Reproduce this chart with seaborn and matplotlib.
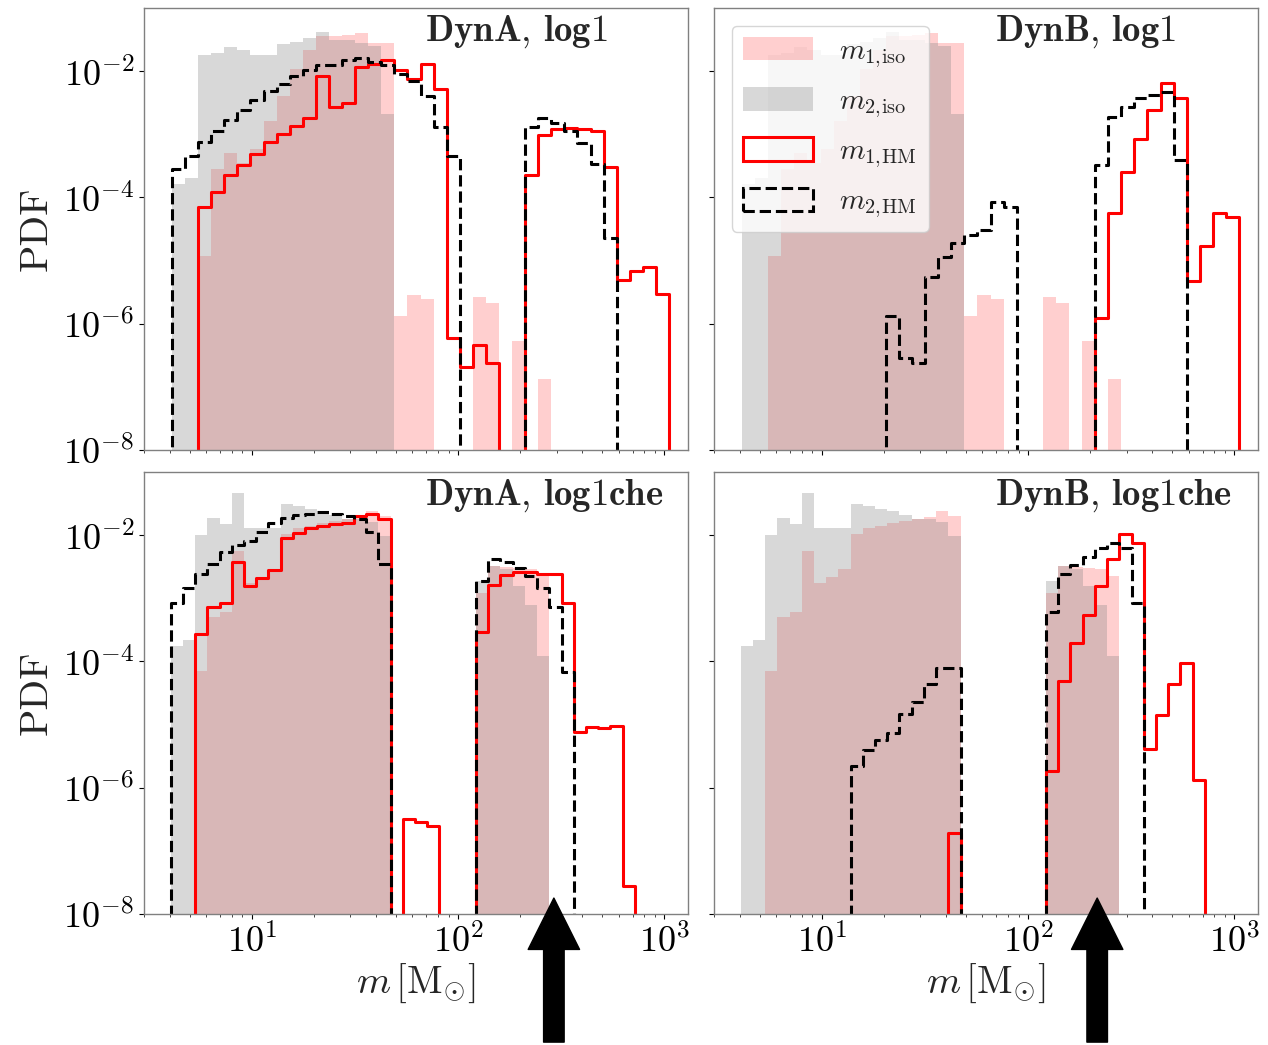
"""
Mass PDFs of isolated vs hierarchical-merger binaries, log1 and log1che models,
for the DynA and DynB dynamical prescriptions. Log-spaced bins, log-log axes.
"""

import matplotlib

matplotlib.use("Agg")
import matplotlib.pyplot as plt
import numpy as np
import seaborn as sns
from matplotlib.patches import Patch
from matplotlib.ticker import FixedLocator, NullLocator

N = None

# bin ranges (Msun) and number of log bins per model
N_BINS = 38
LOG1_MASS_RANGE = (4.10, 1052.0)
CHE_MASS_RANGE = (4.04, 718.0)

# log10(PDF) per bin, None = empty bin
# isolated populations (identical for DynA and DynB)
M1_ISO_LOG1 = [N, N, -4.92, -3.55, -3.30, -3.45, -3.23, -2.79, -2.40, -1.96,
               -1.66, -1.45, -1.45, -1.42, -1.39, -1.56, -1.56, -5.88, -5.55,
               -5.61, N, N, N, -5.57, -5.67, N, -6.28, N, -6.88,
               N, N, N, N, N, N, N, N, N]
M2_ISO_LOG1 = [-3.79, -3.70, -1.75, -1.71, -1.61, -1.66, -1.75, -1.74, -1.57,
               -1.53, -1.48, -1.38, -1.50, -1.51, -1.56, -1.60, -2.68] + [N] * 21
M1_ISO_CHE = [N, N, -4.15, -3.29, -3.22, -2.25, -2.75, -2.67, -2.53, -1.98,
              -1.89, -1.85, -1.80, -1.78, -1.75, -1.71, -1.62, -1.69] + [N] * 7 + \
             [-2.91, -2.49, -2.51, -2.52, -2.53, -2.65] + [N] * 7
M2_ISO_CHE = [-3.75, -3.66, -2.00, -1.72, -1.83, -1.33, -1.88, -1.89, -1.88,
              -1.50, -1.54, -1.58, -1.62, -1.68, -1.74, -1.75, -1.79, -2.02] + [N] * 7 + \
             [-2.72, -2.49, -2.53, -2.80, -3.11, -3.91] + [N] * 7

# hierarchical mergers
M1_HM_DYNA_LOG1 = [N, N, -4.15, -3.92, -3.65, -3.49, -3.31, -3.12, -2.99, -2.87,
                   -2.74, -2.07, -2.56, -2.51, -1.93, -1.88, -1.83, -1.98, -2.13,
                   -1.88, -2.28, -6.22, -6.68, -6.33, -6.62, N, N, -3.65, -3.01,
                   -2.92, -2.90, -2.91, -2.94, -3.52, -5.30, -5.17, -5.10, -5.53]
M2_HM_DYNA_LOG1 = [-3.55, -3.34, -3.12, -2.95, -2.78, -2.62, -2.46, -2.32, -2.20,
                   -2.08, -1.98, -1.91, -1.90, -1.82, -1.79, -1.85, -1.90, -2.05,
                   -2.15, -2.40, -2.89, -3.35, N, N, N, N, N, -2.89, -2.74, -2.82,
                   -2.95, -3.13, -3.47, -4.65, N, N, N, N]
M1_HM_DYNB_LOG1 = [N] * 27 + [-5.91, -4.24, -3.59, -3.07, -2.62, -2.19, -2.43,
                              -5.33, -4.77, -4.24, -4.31]
M2_HM_DYNB_LOG1 = [N] * 11 + [-5.88, -6.55, -6.62, -5.26, -4.95, -4.72, -4.60,
                              -4.51, -4.07, -4.15] + [N] * 6 + \
                  [-3.49, -2.73, -2.56, -2.42, -2.37, -2.33, -3.41] + [N] * 4
M1_HM_DYNA_CHE = [N, N, -3.56, -3.14, -3.07, -2.42, -2.80, -2.68, -2.55, -2.04,
                  -1.97, -1.89, -1.85, -1.82, -1.80, -1.69, -1.66, -1.74, N,
                  -6.49, -6.54, -6.61, N, N, N, -3.53, -2.79, -2.63, -2.59,
                  -2.59, -2.61, -2.62, -3.08, -5.12, -5.04, -5.05, -5.03, -7.56]
M2_HM_DYNA_CHE = [-3.07, -2.84, -2.62, -2.46, -2.26, -2.16, -2.09, -1.95, -1.80,
                  -1.72, -1.68, -1.66, -1.64, -1.67, -1.70, -1.75, -1.95, -2.46] + [N] * 7 + \
                 [-2.72, -2.37, -2.43, -2.52, -2.65, -2.84, -3.13, -4.16] + [N] * 5
M1_HM_DYNB_CHE = [N] * 17 + [-6.72] + [N] * 7 + \
                 [-5.74, -4.31, -3.71, -3.26, -2.80, -2.38, -1.98, -2.12, -5.39,
                  -4.85, -4.35, -4.03, -5.88]
M2_HM_DYNB_CHE = [N] * 9 + [-5.65, -5.40, -5.25, -5.13, -4.84, -4.65, -4.35,
                            -4.11, -4.10] + [N] * 7 + \
                 [-3.22, -2.61, -2.48, -2.34, -2.21, -2.13, -2.21, -3.07] + [N] * 5

PANEL_TITLES = [r"$\mathbf{DynA}$, $\mathbf{log1}$", r"$\mathbf{DynB}$, $\mathbf{log1}$",
                r"$\mathbf{DynA}$, $\mathbf{log1che}$", r"$\mathbf{DynB}$, $\mathbf{log1che}$"]
ARROW_MASS = [291.0, 216.0]  # bottom row markers
LEGEND_LABELS = [r"$m_{1,\!\rm iso}$", r"$m_{2,\!\rm iso}$",
                 r"$m_{1,\!\rm HM}$", r"$m_{2,\!\rm HM}$"]

PINK_ALPHA = 0.19
GRAY_ALPHA = 0.30


def log_edges(mass_range):
    lo, hi = np.log10(mass_range)
    return np.linspace(lo, hi, N_BINS + 1)


def draw_panel(ax, edges, m1_iso, m2_iso, m1_hm, m2_hm):
    w = edges[1] - edges[0]
    # one empty bin each side so the step outlines drop back to the axis
    bins = [edges[0] - w] + list(edges) + [edges[-1] + w]
    centers = 10 ** (0.5 * (edges[:-1] + edges[1:]))
    styles = [
        (m1_iso, dict(fill=True, color="red", alpha=PINK_ALPHA, edgecolor="none", linewidth=0)),
        (m2_iso, dict(fill=True, color="gray", alpha=GRAY_ALPHA, edgecolor="none", linewidth=0)),
        (m1_hm, dict(fill=False, color="red", linewidth=2.2)),
        (m2_hm, dict(fill=False, color="black", linewidth=2.2, linestyle="--")),
    ]
    for values, kw in styles:
        pdf = np.array([0.0 if v is None else 10.0 ** v for v in values])
        sns.histplot(x=centers, weights=pdf, bins=bins, stat="count",
                     element="step", log_scale=True, ax=ax, **kw)


def main() -> None:
    sns.set_style("ticks")
    plt.rcParams.update({
        "font.family": "serif",
        "font.serif": ["cmr10"],
        "mathtext.fontset": "cm",
        "axes.unicode_minus": False,
        "axes.formatter.use_mathtext": True,
    })

    fig, axes = plt.subplots(2, 2, figsize=(12.68, 10.45), dpi=100,
                             sharex=True, sharey=True)
    fig.subplots_adjust(left=0.1136, right=0.9921, bottom=0.1254, top=0.9923,
                        wspace=0.048, hspace=0.05)

    e_log1 = log_edges(LOG1_MASS_RANGE)
    e_che = log_edges(CHE_MASS_RANGE)
    draw_panel(axes[0, 0], e_log1, M1_ISO_LOG1, M2_ISO_LOG1, M1_HM_DYNA_LOG1, M2_HM_DYNA_LOG1)
    draw_panel(axes[0, 1], e_log1, M1_ISO_LOG1, M2_ISO_LOG1, M1_HM_DYNB_LOG1, M2_HM_DYNB_LOG1)
    draw_panel(axes[1, 0], e_che, M1_ISO_CHE, M2_ISO_CHE, M1_HM_DYNA_CHE, M2_HM_DYNA_CHE)
    draw_panel(axes[1, 1], e_che, M1_ISO_CHE, M2_ISO_CHE, M1_HM_DYNB_CHE, M2_HM_DYNB_CHE)

    for i, ax in enumerate(axes.flat):
        ax.set_yscale("log")
        ax.set_xlim(3.0, 1300.0)
        ax.set_ylim(1e-8, 1e-1)
        ax.yaxis.set_major_locator(FixedLocator([1e-8, 1e-6, 1e-4, 1e-2]))
        ax.yaxis.set_minor_locator(NullLocator())
        ax.tick_params(labelsize=26, colors="black")
        for s in ax.spines.values():
            s.set_color("0.5")
            s.set_linewidth(1.0)
        ax.set_xlabel("")
        ax.set_ylabel("")
        ax.text(0.517, 0.988, PANEL_TITLES[i], transform=ax.transAxes,
                ha="left", va="top", fontsize=26.5)

    for ax in axes[:, 0]:
        ax.set_ylabel("PDF", fontsize=29, labelpad=6)
    for ax, m in zip(axes[1], ARROW_MASS):
        ax.set_xlabel(r"$m\,[\mathrm{M}_{\odot}]$", fontsize=28, labelpad=2)
        ax.annotate("", xy=(m, 0.036), xycoords=("data", "axes fraction"),
                    xytext=(m, -0.29), textcoords=("data", "axes fraction"),
                    arrowprops=dict(arrowstyle="simple,head_width=1.0,head_length=1.0,tail_width=0.4",
                                    mutation_scale=37, color="black",
                                    shrinkA=0, shrinkB=0),
                    annotation_clip=False)

    handles = [
        Patch(facecolor="red", alpha=PINK_ALPHA, edgecolor="none"),
        Patch(facecolor="gray", alpha=GRAY_ALPHA, edgecolor="none"),
        Patch(facecolor="none", edgecolor="red", linewidth=2.2),
        Patch(facecolor="none", edgecolor="black", linewidth=2.2, linestyle="--"),
    ]
    axes[0, 1].legend(handles, LEGEND_LABELS, loc="upper left", fontsize=21,
                      handlelength=2.4, handleheight=0.85, labelspacing=0.6,
                      handletextpad=0.9, borderaxespad=0.6)

    fig.savefig("out.png", dpi=100)
    plt.close(fig)


if __name__ == "__main__":
    main()
